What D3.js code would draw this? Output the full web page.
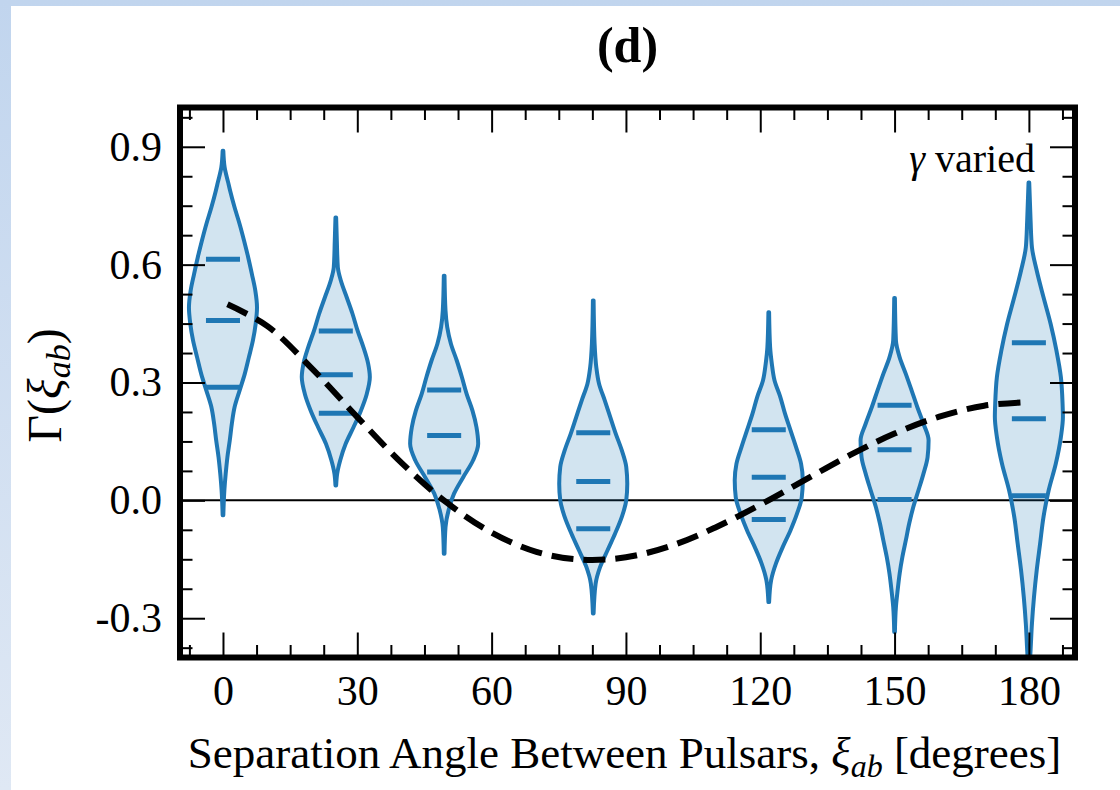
<!DOCTYPE html>
<html>
<head>
<meta charset="utf-8">
<script src="https://cdn.jsdelivr.net/npm/d3@7"></script>
<style>
  body { margin: 0; padding: 0; background: #fff; }
  text { font-family: "Liberation Serif", "DejaVu Serif", serif; fill: #000; }
</style>
</head>
<body>
<div id="chart"></div>
<script>
// violin positions (separation angle, degrees)
const positions = [0, 25.2, 49.4, 82.7, 121.9, 150.0, 180.0];

// quartile bars drawn inside each violin
const quartileLow  = [0.288, 0.222, 0.072, -0.072, -0.049, 0.002, 0.012];
const medians      = [0.458, 0.320, 0.165, 0.048, 0.059, 0.129, 0.208];
const quartileHigh = [0.614, 0.431, 0.281, 0.172, 0.180, 0.242, 0.401];

// density profile of each violin: [value, relative density]
const violinProfiles = [
    [[0.890, 0.01], [0.847, 0.05], [0.810, 0.15], [0.788, 0.21], [0.746, 0.34], [0.703, 0.49],
     [0.661, 0.62], [0.619, 0.74], [0.576, 0.85], [0.534, 0.95], [0.491, 1.00], [0.449, 0.96],
     [0.407, 0.88], [0.364, 0.76], [0.322, 0.64], [0.280, 0.49], [0.237, 0.34], [0.195, 0.26],
     [0.153, 0.20], [0.110, 0.13], [0.068, 0.08], [0.025, 0.04], [-0.038, 0.01]],
    [[0.720, 0.01], [0.661, 0.03], [0.593, 0.06], [0.559, 0.15], [0.517, 0.32], [0.475, 0.49],
     [0.432, 0.64], [0.390, 0.81], [0.348, 0.95], [0.314, 1.00], [0.271, 0.91], [0.229, 0.74],
     [0.186, 0.52], [0.144, 0.29], [0.102, 0.13], [0.068, 0.04], [0.038, 0.01]],
    [[0.572, 0.01], [0.483, 0.04], [0.441, 0.09], [0.398, 0.20], [0.356, 0.37], [0.314, 0.52],
     [0.271, 0.66], [0.229, 0.83], [0.186, 0.95], [0.144, 1.00], [0.102, 0.85], [0.059, 0.56],
     [0.017, 0.29], [-0.025, 0.13], [-0.068, 0.04], [-0.136, 0.01]],
    [[0.509, 0.01], [0.398, 0.04], [0.339, 0.09], [0.297, 0.17], [0.254, 0.34], [0.212, 0.50],
     [0.170, 0.66], [0.127, 0.84], [0.085, 0.97], [0.042, 1.00], [0.000, 0.97], [-0.042, 0.84],
     [-0.085, 0.64], [-0.127, 0.42], [-0.170, 0.20], [-0.212, 0.07], [-0.288, 0.01]],
    [[0.479, 0.01], [0.390, 0.04], [0.348, 0.09], [0.305, 0.17], [0.263, 0.34], [0.220, 0.48],
     [0.178, 0.64], [0.136, 0.80], [0.093, 0.95], [0.051, 1.00], [0.008, 0.97], [-0.034, 0.83],
     [-0.076, 0.64], [-0.119, 0.41], [-0.161, 0.21], [-0.203, 0.07], [-0.259, 0.01]],
    [[0.515, 0.01], [0.407, 0.04], [0.364, 0.15], [0.322, 0.33], [0.280, 0.50], [0.237, 0.67],
     [0.195, 0.85], [0.153, 1.00], [0.110, 0.97], [0.068, 0.85], [0.025, 0.70], [-0.017, 0.55],
     [-0.059, 0.43], [-0.102, 0.33], [-0.144, 0.23], [-0.186, 0.15], [-0.229, 0.09],
     [-0.271, 0.04], [-0.335, 0.01]],
    [[0.809, 0.01], [0.712, 0.05], [0.644, 0.09], [0.585, 0.23], [0.517, 0.43], [0.449, 0.64],
     [0.381, 0.81], [0.314, 0.94], [0.246, 0.99], [0.212, 1.00], [0.161, 0.94], [0.093, 0.79],
     [0.025, 0.58], [-0.042, 0.43], [-0.110, 0.33], [-0.178, 0.23], [-0.246, 0.15],
     [-0.314, 0.09], [-0.381, 0.05], [-0.440, 0.01]]
];

// dashed reference curve
const curveAngles = [1, 10, 20, 30, 40, 50, 60, 70, 80, 90, 100, 110, 120, 130, 140, 150, 160, 170, 180];
const curveValues = [0.499, 0.443, 0.334, 0.212, 0.094, -0.006, -0.082, -0.131, -0.151, -0.145,
                     -0.116, -0.069, -0.011, 0.052, 0.115, 0.170, 0.213, 0.241, 0.250];

const xMajor = [0, 30, 60, 90, 120, 150, 180];
const yMajor = [-0.3, 0.0, 0.3, 0.6, 0.9];

const W = 1120, H = 790;
const blue = "#1f77b4";

const svg = d3.select("#chart").append("svg")
    .attr("width", W)
    .attr("height", H);

// light blue page border (top / left strip)
const grad = svg.append("defs").append("linearGradient")
    .attr("id", "bg").attr("x1", 0).attr("y1", 0).attr("x2", 0).attr("y2", 1);
grad.append("stop").attr("offset", "0%").attr("stop-color", "#c1d5ee");
grad.append("stop").attr("offset", "100%").attr("stop-color", "#dfe8f4");
svg.append("rect").attr("width", W).attr("height", H).attr("fill", "url(#bg)");
svg.append("rect").attr("x", 11).attr("y", 6).attr("width", W - 11).attr("height", H - 6).attr("fill", "#fff");

// scales
const x = d3.scaleLinear().domain([-9.6, 190.3]).range([180, 1075]);
const y = d3.scaleLinear().domain([-0.4, 1.0]).range([657.5, 107.5]);
const [x0, x1] = x.range();
const [yB, yT] = y.range();

svg.select("defs").append("clipPath").attr("id", "plotclip")
    .append("rect").attr("x", x0).attr("y", yT).attr("width", x1 - x0).attr("height", yB - yT);

const plot = svg.append("g").attr("clip-path", "url(#plotclip)");

// zero line
plot.append("line")
    .attr("x1", x0).attr("x2", x1)
    .attr("y1", y(0)).attr("y2", y(0))
    .attr("stroke", "#000").attr("stroke-width", 2);

// violins
const halfWidth = x(7.6) - x(0);
positions.forEach((pos, i) => {
    const prof = violinProfiles[i];
    const maxD = d3.max(prof, d => d[1]);
    const w = d3.scaleLinear().domain([0, maxD]).range([0, halfWidth]);
    const cx = x(pos);
    const area = d3.area()
        .curve(d3.curveMonotoneY)
        .y(d => y(d[0]))
        .x0(d => cx - w(d[1]))
        .x1(d => cx + w(d[1]));
    plot.append("path")
        .datum(prof.slice().reverse())
        .attr("d", area)
        .attr("fill", blue).attr("fill-opacity", 0.2)
        .attr("stroke", blue).attr("stroke-width", 4)
        .attr("stroke-linejoin", "round");
});

// quartile bars
const barHalf = x(3.8) - x(0);
[quartileLow, medians, quartileHigh].forEach(arr => {
    plot.selectAll(null)
        .data(arr)
        .join("line")
        .attr("x1", (d, i) => x(positions[i]) - barHalf)
        .attr("x2", (d, i) => x(positions[i]) + barHalf)
        .attr("y1", d => y(d))
        .attr("y2", d => y(d))
        .attr("stroke", blue).attr("stroke-width", 5);
});

// dashed curve
const line = d3.line()
    .curve(d3.curveCatmullRom)
    .x((d, i) => x(curveAngles[i]))
    .y(d => y(d));
plot.append("path")
    .datum(curveValues)
    .attr("d", line)
    .attr("fill", "none")
    .attr("stroke", "#000").attr("stroke-width", 6)
    .attr("stroke-dasharray", "22,10");

// axes with inward ticks
const xMinor = d3.range(-7.5, 190, 7.5).filter(v => !xMajor.includes(v));
const yMinor = d3.range(-0.375, 1.0, 0.075).map(v => +v.toFixed(3))
    .filter(v => !yMajor.some(m => Math.abs(m - v) < 1e-6));

function styleAxis(g) {
    g.select(".domain").remove();
    g.selectAll(".tick line").attr("stroke", "#000").attr("stroke-width", 2);
    g.selectAll(".tick text").style("font-size", "42px")
        .style("font-family", '"Liberation Serif", "DejaVu Serif", serif');
}

svg.append("g").attr("transform", `translate(0,${yB})`)
    .call(d3.axisBottom(x).tickValues(xMajor).tickSize(-25).tickPadding(18).tickFormat(d3.format("d")))
    .call(styleAxis);
svg.append("g").attr("transform", `translate(0,${yB})`)
    .call(d3.axisBottom(x).tickValues(xMinor).tickSize(-12.5).tickFormat(""))
    .call(styleAxis);
svg.append("g").attr("transform", `translate(0,${yT})`)
    .call(d3.axisTop(x).tickValues(xMajor).tickSize(-25).tickFormat(""))
    .call(styleAxis);
svg.append("g").attr("transform", `translate(0,${yT})`)
    .call(d3.axisTop(x).tickValues(xMinor).tickSize(-12.5).tickFormat(""))
    .call(styleAxis);

svg.append("g").attr("transform", `translate(${x0},0)`)
    .call(d3.axisLeft(y).tickValues(yMajor).tickSize(-25).tickPadding(18).tickFormat(d => d.toFixed(1)))
    .call(styleAxis);
svg.append("g").attr("transform", `translate(${x0},0)`)
    .call(d3.axisLeft(y).tickValues(yMinor).tickSize(-12.5).tickFormat(""))
    .call(styleAxis);
svg.append("g").attr("transform", `translate(${x1},0)`)
    .call(d3.axisRight(y).tickValues(yMajor).tickSize(-25).tickFormat(""))
    .call(styleAxis);
svg.append("g").attr("transform", `translate(${x1},0)`)
    .call(d3.axisRight(y).tickValues(yMinor).tickSize(-12.5).tickFormat(""))
    .call(styleAxis);

// frame
svg.append("rect")
    .attr("x", x0).attr("y", yT)
    .attr("width", x1 - x0).attr("height", yB - yT)
    .attr("fill", "none").attr("stroke", "#000").attr("stroke-width", 6);

// annotation
const ann = svg.append("text")
    .attr("x", 1035).attr("y", 172)
    .attr("text-anchor", "end")
    .style("font-size", "40px");
ann.append("tspan").style("font-style", "italic").text("γ");
ann.append("tspan").text(" varied");

// title
svg.append("text")
    .attr("x", (x0 + x1) / 2).attr("y", 62)
    .attr("text-anchor", "middle")
    .style("font-size", "50px").style("font-weight", "bold")
    .text("(d)");

// x label
const xl = svg.append("text")
    .attr("x", (x0 + x1) / 2 - 3).attr("y", 768)
    .attr("text-anchor", "middle")
    .style("font-size", "45px");
xl.append("tspan").text("Separation Angle Between Pulsars, ");
xl.append("tspan").style("font-style", "italic").text("ξ");
xl.append("tspan").style("font-style", "italic").style("font-size", "32px").attr("dy", 9).text("ab");
xl.append("tspan").attr("dy", -9).text(" [degrees]");

// y label
const yl = svg.append("text")
    .attr("transform", `translate(61,${(yT + yB) / 2 + 3}) rotate(-90)`)
    .attr("text-anchor", "middle")
    .style("font-size", "48px");
yl.append("tspan").text("Γ(");
yl.append("tspan").style("font-style", "italic").text("ξ");
yl.append("tspan").style("font-style", "italic").style("font-size", "34px").attr("dy", 9).text("ab");
yl.append("tspan").attr("dy", -9).text(")");
</script>
</body>
</html>
